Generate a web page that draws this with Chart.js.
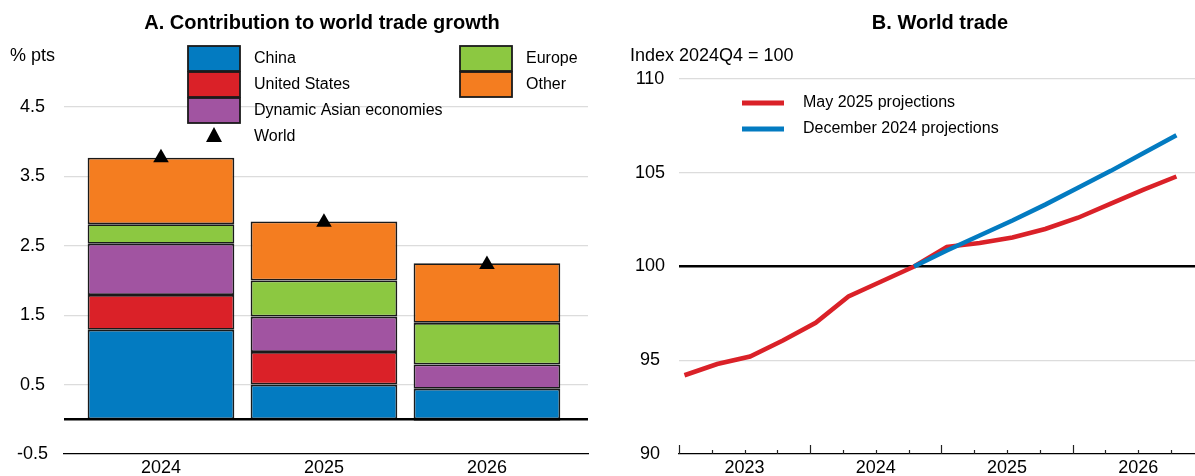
<!DOCTYPE html>
<html>
<head>
<meta charset="utf-8">
<script src="https://cdn.jsdelivr.net/npm/chart.js@4/dist/chart.umd.min.js"></script>
<style>
  html, body { margin: 0; padding: 0; background: #fff; }
  #wrap { position: relative; width: 1195px; height: 476px; }
  .panel { position: absolute; top: 0; height: 476px; }
</style>
</head>
<body>
<div id="wrap">
  <div class="panel" style="left:0;width:598px"><canvas id="chartA" width="598" height="476"></canvas></div>
  <div class="panel" style="left:598px;width:597px"><canvas id="chartB" width="597" height="476"></canvas></div>
</div>
<script>
// panel A data
const years = ['2024', '2025', '2026'];
const china = [1.29, 0.50, 0.44];
const unitedStates = [0.50, 0.47, -0.02];
const dynamicAsia = [0.74, 0.51, 0.35];
const europe = [0.28, 0.52, 0.60];
const other = [0.96, 0.85, 0.86];
const world = [3.77, 2.84, 2.23];
const yTicksA = [-0.5, 0.5, 1.5, 2.5, 3.5, 4.5];

// panel B data
const quarters = [
  '2023Q1', '2023Q2', '2023Q3', '2023Q4',
  '2024Q1', '2024Q2', '2024Q3', '2024Q4',
  '2025Q1', '2025Q2', '2025Q3', '2025Q4',
  '2026Q1', '2026Q2', '2026Q3', '2026Q4',
];
const may2025 = [94.2, 94.8, 95.2, 96.05, 97.0, 98.4, 99.2, 100.0,
  101.05, 101.25, 101.55, 102.0, 102.6, 103.35, 104.1, 104.8];
const dec2024 = [null, null, null, null, null, null, null, 100.0,
  100.85, 101.65, 102.45, 103.3, 104.2, 105.1, 106.05, 107.0];
const yearsB = ['2023', '2024', '2025', '2026'];
const yTicksB = [90, 95, 100, 105, 110];

const FONT = '"Liberation Sans", Arial, sans-serif';
const colors = {
  china: '#037BC1',
  us: '#DA2128',
  asia: '#A154A1',
  europe: '#8CC841',
  other: '#F47D20',
};

// x position in months from start of 2023, middle of first month of the quarter
function quarterMonth(q) {
  const y = +q.slice(0, 4);
  const n = +q.slice(5);
  return (y - 2023) * 12 + (n - 1) * 3 + 0.5;
}
function yearMid(y) {
  return (+y - 2023) * 12 + 6;
}

function text(ctx, str, x, y, font, align) {
  ctx.save();
  ctx.font = font;
  ctx.fillStyle = '#000';
  ctx.textAlign = align || 'left';
  ctx.textBaseline = 'middle';
  ctx.fillText(str, x, y);
  ctx.restore();
}

// ---------- chart A ----------

function barSet(label, values, color) {
  return {
    type: 'bar',
    label: label,
    data: values.map((v, i) => ({ x: i, y: v })),
    backgroundColor: color,
    borderColor: '#1a1a1a',
    borderWidth: 1.8,
    borderSkipped: false,
    barPercentage: 0.9,
    categoryPercentage: 1.0,
    stack: 'regions',
  };
}

const dataA = {
  datasets: [
    barSet('China', china, colors.china),
    barSet('United States', unitedStates, colors.us),
    barSet('Dynamic Asian economies', dynamicAsia, colors.asia),
    barSet('Europe', europe, colors.europe),
    barSet('Other', other, colors.other),
    {
      type: 'line',
      label: 'World',
      data: world.map((v, i) => ({ x: i, y: v })),
      showLine: false,
      pointStyle: 'triangle',
      pointRadius: 9,
      backgroundColor: '#000',
      borderColor: '#000',
      borderWidth: 0,
      stack: 'world',
      order: -1,
    },
  ]
};

const decorA = {
  id: 'decorA',
  afterDatasetsDraw(chart) {
    const ctx = chart.ctx;
    const area = chart.chartArea;
    const y0 = chart.scales.y.getPixelForValue(0);
    ctx.save();
    ctx.strokeStyle = '#000';
    ctx.lineWidth = 2.5;
    ctx.beginPath();
    ctx.moveTo(area.left, y0);
    ctx.lineTo(area.right, y0);
    ctx.stroke();
    ctx.restore();
  },
  afterDraw(chart) {
    const ctx = chart.ctx;
    text(ctx, 'A. Contribution to world trade growth', 322, 23, 'bold 20px ' + FONT, 'center');
    text(ctx, '% pts', 10, 56, '18px ' + FONT);

    // legend, two columns
    const ds = chart.data.datasets;
    const items = [
      [ds[0], 188, 46], [ds[1], 188, 72], [ds[2], 188, 98],
      [ds[3], 460, 46], [ds[4], 460, 72],
    ];
    items.forEach(([d, x, y]) => {
      ctx.save();
      ctx.fillStyle = d.backgroundColor;
      ctx.fillRect(x, y, 52, 25);
      ctx.strokeStyle = '#1a1a1a';
      ctx.lineWidth = 1.8;
      ctx.strokeRect(x, y, 52, 25);
      ctx.restore();
      text(ctx, d.label, x + 66, y + 12.5, '16px ' + FONT);
    });
    // world marker
    ctx.save();
    ctx.fillStyle = '#000';
    ctx.beginPath();
    ctx.moveTo(214, 127);
    ctx.lineTo(222, 142);
    ctx.lineTo(206, 142);
    ctx.closePath();
    ctx.fill();
    ctx.restore();
    text(ctx, ds[5].label, 254, 137, '16px ' + FONT);
  }
};

const configA = {
  data: dataA,
  options: {
    responsive: false,
    animation: false,
    layout: { padding: { top: 107, right: 10, left: 0, bottom: 0 } },
    plugins: {
      legend: { display: false },
      tooltip: { enabled: false },
    },
    scales: {
      x: {
        type: 'linear',
        stacked: true,
        offset: false,
        min: -0.595,
        max: 2.62,
        grid: { display: false, drawTicks: false, offset: false },
        border: { display: true, color: '#000', width: 1.2 },
        afterBuildTicks: (scale) => {
          scale.ticks = years.map((y, i) => ({ value: i }));
        },
        afterFit: (scale) => { scale.height = 22; },
        ticks: {
          callback: (v) => years[v],
          color: '#000',
          font: { family: FONT, size: 18 },
          padding: 3,
          maxRotation: 0,
        },
      },
      y: {
        stacked: true,
        min: -0.5,
        max: 4.5,
        afterBuildTicks: (scale) => {
          scale.ticks = yTicksA.map(v => ({ value: v }));
        },
        afterFit: (scale) => { scale.width = 64; },
        grid: {
          color: (c) => c.tick && c.tick.value === -0.5 ? 'rgba(0,0,0,0)' : '#dcdcdc',
          lineWidth: 1.2,
          drawTicks: true,
          tickLength: 16,
          tickColor: 'rgba(0,0,0,0)',
        },
        border: { display: false },
        ticks: {
          callback: (v) => v.toFixed(1),
          color: '#000',
          font: { family: FONT, size: 18 },
          crossAlign: 'center',
          padding: 0,
        },
      },
    },
  },
  plugins: [decorA],
};

new Chart(document.getElementById('chartA'), configA);

// ---------- chart B ----------

const dataB = {
  datasets: [
    {
      label: 'May 2025 projections',
      data: quarters.map((q, i) => ({ x: quarterMonth(q), y: may2025[i] })),
      borderColor: colors.us,
      borderWidth: 4.5,
      pointRadius: 0,
      order: 1,
    },
    {
      label: 'December 2024 projections',
      data: quarters.map((q, i) => ({ x: quarterMonth(q), y: dec2024[i] })),
      borderColor: colors.china,
      borderWidth: 4.5,
      pointRadius: 0,
      order: 0,
    },
  ]
};

const decorB = {
  id: 'decorB',
  afterDraw(chart) {
    const ctx = chart.ctx;
    const xs = chart.scales.x;
    const bottom = chart.chartArea.bottom;
    // quarter ticks pointing up from the axis
    ctx.save();
    ctx.strokeStyle = '#222';
    ctx.lineWidth = 1.2;
    for (let m = 0; m <= xs.max; m += 3) {
      const x = Math.round(xs.getPixelForValue(m)) + 0.5;
      const len = m % 12 === 0 ? 9 : 4;
      ctx.beginPath();
      ctx.moveTo(x, bottom);
      ctx.lineTo(x, bottom - len);
      ctx.stroke();
    }
    ctx.restore();

    text(ctx, 'B. World trade', 342, 23, 'bold 20px ' + FONT, 'center');
    text(ctx, 'Index 2024Q4 = 100', 32, 56, '18px ' + FONT);

    // legend
    chart.data.datasets.forEach((d, i) => {
      const y = 103 + i * 26;
      ctx.save();
      ctx.strokeStyle = d.borderColor;
      ctx.lineWidth = 5;
      ctx.beginPath();
      ctx.moveTo(144, y);
      ctx.lineTo(186, y);
      ctx.stroke();
      ctx.restore();
      text(ctx, d.label, 205, y, '16px ' + FONT);
    });
  }
};

const configB = {
  type: 'line',
  data: dataB,
  options: {
    responsive: false,
    animation: false,
    layout: { padding: { top: 79, right: 0, left: 0, bottom: 0 } },
    plugins: {
      legend: { display: false },
      tooltip: { enabled: false },
    },
    scales: {
      x: {
        type: 'linear',
        min: 0,
        max: 47.2,
        grid: { display: false, drawTicks: false },
        border: { display: true, color: '#000', width: 1.2 },
        afterBuildTicks: (scale) => {
          scale.ticks = yearsB.map(y => ({ value: yearMid(y) }));
        },
        afterFit: (scale) => { scale.height = 22; },
        ticks: {
          callback: (v) => String(2023 + Math.floor(v / 12)),
          color: '#000',
          font: { family: FONT, size: 18 },
          padding: 3,
          maxRotation: 0,
        },
      },
      y: {
        min: 90,
        max: 110,
        afterBuildTicks: (scale) => {
          scale.ticks = yTicksB.map(v => ({ value: v }));
        },
        afterFit: (scale) => { scale.width = 81; },
        grid: {
          color: (c) => {
            if (!c.tick) return '#dcdcdc';
            if (c.tick.value === 100) return '#000';
            if (c.tick.value === 90) return 'rgba(0,0,0,0)';
            return '#dcdcdc';
          },
          lineWidth: (c) => c.tick && c.tick.value === 100 ? 2.5 : 1.2,
          drawTicks: true,
          tickLength: 14,
          tickColor: 'rgba(0,0,0,0)',
        },
        border: { display: false },
        ticks: {
          color: '#000',
          font: { family: FONT, size: 18 },
          crossAlign: 'center',
          padding: 0,
        },
      },
    },
  },
  plugins: [decorB],
};

new Chart(document.getElementById('chartB'), configB);
</script>
</body>
</html>
